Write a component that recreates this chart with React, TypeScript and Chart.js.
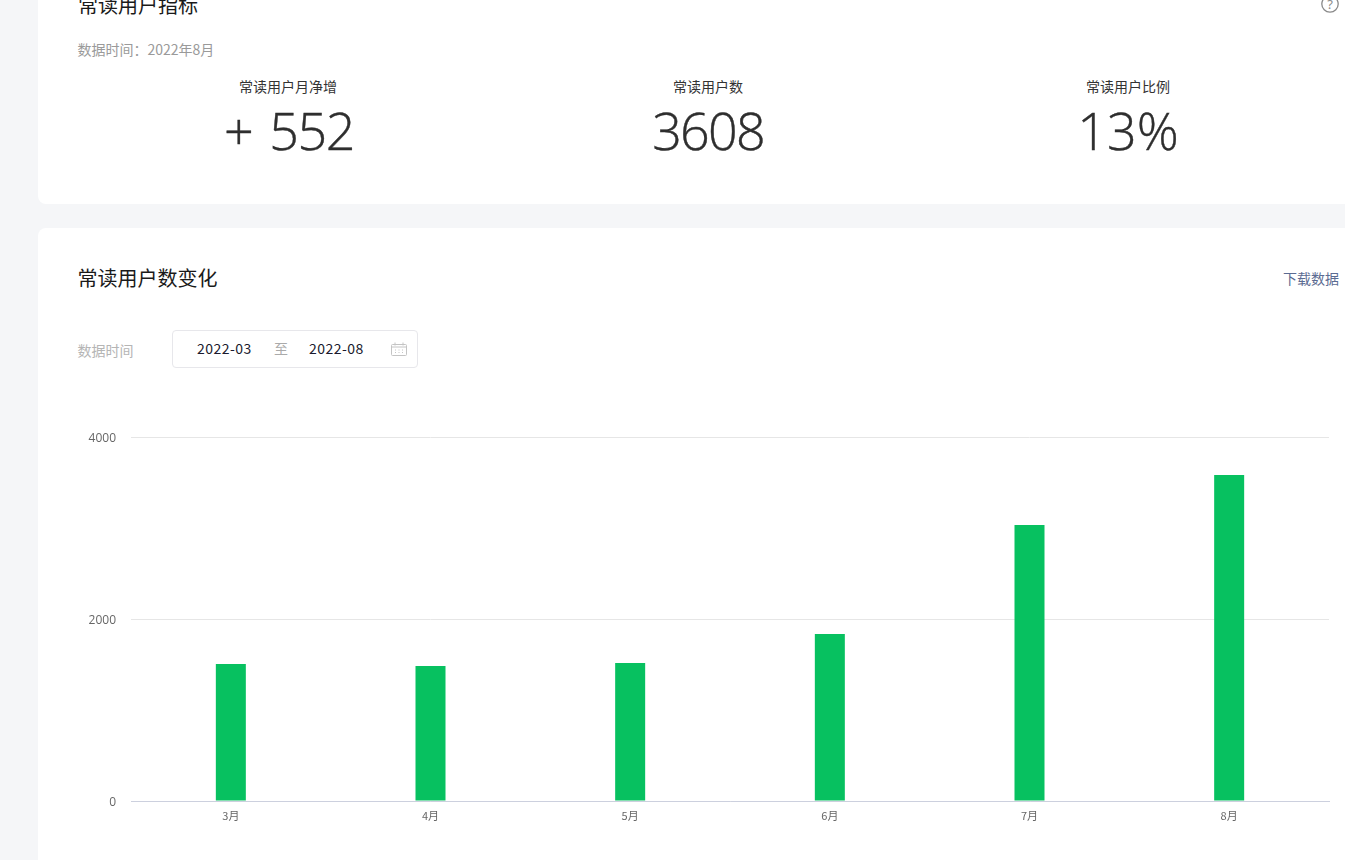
import React, { useEffect, useRef } from "react";
import { Chart, registerables } from "chart.js";

Chart.register(...registerables);

const months = ["3月", "4月", "5月", "6月", "7月", "8月"];
const readers = [1505, 1484, 1516, 1835, 3033, 3582];
const yTicks = [0, 2000, 4000];
const kpiLabels = ["常读用户月净增", "常读用户数", "常读用户比例"];
const kpiValues = ["+ 552", "3608", "13%"];
const kpiCenters = [288, 708, 1128];

const CJK = '"Noto Sans CJK SC", "Noto Sans", sans-serif';
const abs = (s: React.CSSProperties): React.CSSProperties => ({ position: "absolute", whiteSpace: "nowrap", ...s });
const kpiSpacing: React.CSSProperties[] = [
  { letterSpacing: "-1.4px", wordSpacing: "5px", marginLeft: 1 },
  { letterSpacing: "-1.8px" },
  {},
];

export default function App() {
  const ref = useRef<HTMLCanvasElement | null>(null);
  useEffect(() => {
    document.body.style.margin = "0";
    document.body.style.overflow = "hidden";
    const chart = new Chart(ref.current!, {
      type: "bar",
      data: {
        labels: months,
        datasets: [{ data: readers, backgroundColor: "#07c160", barThickness: 30, borderWidth: 0, inflateAmount: 0 } as any],
      },
      options: {
        animation: false,
        responsive: false,
        maintainAspectRatio: false,
        layout: { padding: { top: 17, right: 16, bottom: 0, left: 0 } },
        plugins: { legend: { display: false }, tooltip: { enabled: false } },
        scales: {
          x: {
            grid: { display: false, drawTicks: false },
            border: { color: "#ccd0de", width: 1 },
            ticks: { color: "#666666", padding: 8, maxRotation: 0, font: { size: 11, family: CJK } },
            afterFit: (s: any) => { s.height = 39; s.paddingLeft = 0; s.paddingRight = 0; },
          },
          y: {
            min: 0,
            max: 4000,
            afterBuildTicks: (s: any) => { s.ticks = yTicks.map((value) => ({ value })); },
            grid: { color: "#e6e6e6", drawTicks: false },
            border: { display: false },
            ticks: {
              color: "#666666",
              padding: 15,
              labelOffset: 1.5,
              font: { size: 12, family: '"Open Sans", sans-serif' },
              callback: (v: any) => String(v),
            },
            afterFit: (s: any) => { s.width = 53; s.paddingTop = 0; s.paddingBottom = 0; },
          },
        },
      },
    });
    return () => chart.destroy();
  }, []);

  return (
    <div style={{ position: "relative", width: 1345, height: 860, overflow: "hidden", background: "#f5f6f8", fontFamily: CJK }}>
      <div style={abs({ left: 38, top: -40, width: 1340, height: 244, background: "#fff", borderRadius: 8 })} />
      <div style={abs({ left: 38, top: 228, width: 1340, height: 700, background: "#fff", borderRadius: 8 })} />

      <div style={abs({ left: 78, top: -7, fontSize: 20, lineHeight: "24px", color: "#1a1a1a" })}>常读用户指标</div>
      <svg style={abs({ left: 1321, top: -5 })} width="18" height="18" viewBox="0 0 18 18">
        <circle cx="9" cy="9" r="8.2" fill="none" stroke="#8a8a8a" strokeWidth="1.3" />
        <text x="9" y="13.5" textAnchor="middle" fontSize="13" fill="#8a8a8a" fontFamily="Noto Sans">?</text>
      </svg>
      <div style={abs({ left: 77.5, top: 39, fontSize: 14, lineHeight: "20px", color: "#9a9a9a" })}>数据时间：2022年8月</div>

      {kpiLabels.map((l, i) => (
        <div key={l} style={abs({ left: kpiCenters[i] - 150, width: 300, top: 77, textAlign: "center", fontSize: 14, lineHeight: "18px", color: "#333" })}>{l}</div>
      ))}
      {kpiValues.map((v, i) => (
        <div key={v} style={abs({ left: kpiCenters[i] - 150, width: 300, top: 97, textAlign: "center", fontSize: 52, lineHeight: "66px", fontFamily: '"Open Sans", sans-serif', fontWeight: 300, color: "#2e2e2e", WebkitTextStroke: "0.4px #2e2e2e", ...kpiSpacing[i] })}>{v}</div>
      ))}

      <div style={abs({ left: 77.5, top: 265, fontSize: 20, lineHeight: "26px", color: "#1a1a1a" })}>常读用户数变化</div>
      <div style={abs({ left: 1283, top: 268, fontSize: 14, lineHeight: "20px", color: "#5b6b92" })}>下载数据</div>

      <div style={abs({ left: 77.5, top: 340, fontSize: 14, lineHeight: "20px", color: "#b5b5b5" })}>数据时间</div>
      <div style={abs({ left: 172, top: 330, width: 244, height: 36, border: "1px solid #e7e7eb", borderRadius: 4, background: "#fff" })} />
      <div style={abs({ left: 197, top: 338, fontSize: 14, lineHeight: "20px", letterSpacing: "0.45px", color: "#1a1a2e" })}>2022-03</div>
      <div style={abs({ left: 274, top: 338, fontSize: 14, lineHeight: "20px", color: "#aaaaaa" })}>至</div>
      <div style={abs({ left: 309, top: 338, fontSize: 14, lineHeight: "20px", letterSpacing: "0.45px", color: "#1a1a2e" })}>2022-08</div>
      <svg style={abs({ left: 391, top: 342 })} width="16" height="14" viewBox="0 0 16 14">
        <rect x="0.5" y="2.5" width="15" height="11" rx="1" fill="none" stroke="#c4c4c4" />
        <path d="M4 0.5v3M12 0.5v3M1 5h14" stroke="#c4c4c4" fill="none" />
        <path d="M4 8h1M7.5 8h1M11 8h1M4 10.5h1M7.5 10.5h1M11 10.5h1" stroke="#c4c4c4" fill="none" />
      </svg>

      <canvas ref={ref} width={1267} height={420} style={abs({ left: 78, top: 420, width: 1267, height: 420, display: "block" })} />
    </div>
  );
}
